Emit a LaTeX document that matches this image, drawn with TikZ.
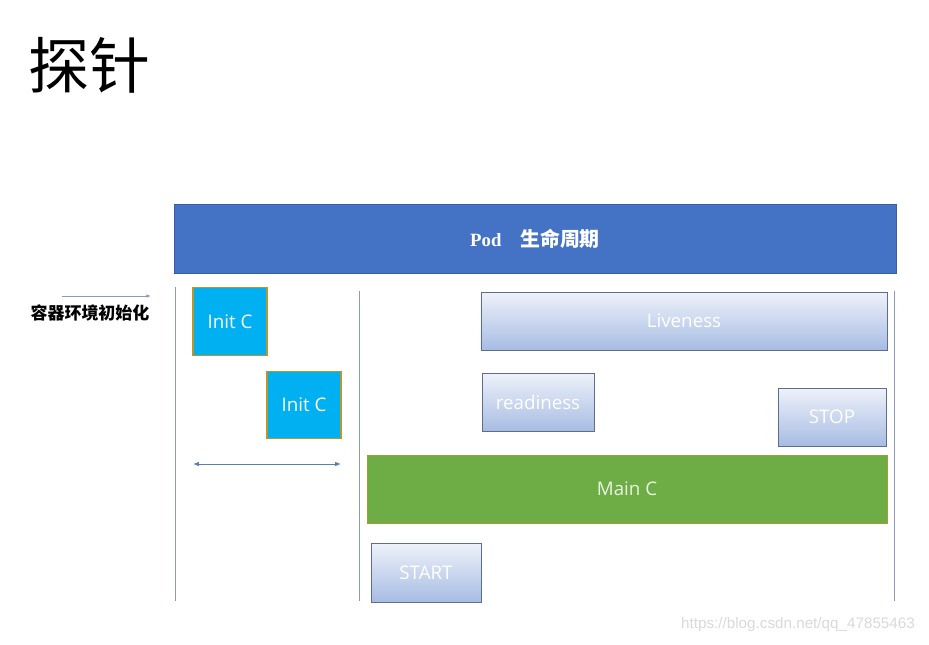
\documentclass[tikz,border=0pt]{standalone}
\usepackage{fontspec}
\setmainfont{Open Sans}
\newfontfamily\cjk{Noto Sans CJK SC}
\newfontfamily\podserif{Liberation Serif}
\newfontfamily\urlfont{Liberation Sans}
\usetikzlibrary{arrows.meta, positioning, calc}
\definecolor{podblue}{HTML}{4472C4}
\definecolor{podblueborder}{HTML}{3A5F9E}
\definecolor{initcyan}{HTML}{00B0F0}
\definecolor{goldborder}{HTML}{B8962E}
\definecolor{maingreen}{HTML}{6EAD46}
\definecolor{probetop}{HTML}{EEF2FA}
\definecolor{probebottom}{HTML}{A7BCE3}
\definecolor{probeborder}{HTML}{5F6D8C}
\definecolor{guideline}{HTML}{8A9BBA}
\definecolor{spanarrow}{HTML}{5B7DB1}

\begin{document}
\begin{tikzpicture}[
      x=0.03cm, y=-0.03cm,
      initbox/.style={draw=goldborder, fill=initcyan, line width=1pt,
        minimum width=2.22cm, minimum height=2.02cm, inner sep=0pt,
        text=white, font=\fontsize{16}{19}\selectfont},
      probebox/.style={draw=probeborder, line width=0.8pt, top color=probetop,
        bottom color=probebottom, minimum height=1.74cm, inner sep=0pt,
        text=white, font=\fontsize{16}{19}\selectfont},
      mainbox/.style={draw=goldborder!70!maingreen, fill=maingreen, line width=0.8pt,
        minimum width=15.6cm, minimum height=2.04cm, inner sep=0pt,
        text=white!85!maingreen, font=\fontsize{16}{19}\selectfont},
      guide/.style={draw=guideline, line width=0.8pt},
      >=Latex
    ]
      \useasboundingbox (0,0) rectangle (929,644);
      \node[font=\cjk\fontsize{52}{56}\selectfont] (title) at (89,65) {探针};

      \node[draw=podblueborder, fill=podblue, minimum width=21.66cm,
        minimum height=2.07cm, inner sep=0pt, text=white] (pod) at (535,239)
        {\podserif\bfseries\fontsize{16}{18}\selectfont Pod\quad
         {\cjk\bfseries\fontsize{17}{19}\selectfont 生命周期}};

      \node[font=\cjk\bfseries\fontsize{14.5}{17}\selectfont] (initlabel) at (90,313)
        {容器环境初始化};
      \coordinate (initarrowA) at (62,296);
      \coordinate (initarrowB) at (151,296);
      \draw[->, guide, line width=0.6pt, >={Latex[length=4pt, width=3pt]}]
        (initarrowA) -- (initarrowB);

      % guide lines
      \coordinate (leftTop) at (175,287);
      \coordinate (leftBot) at (175,601);
      \coordinate (midTop) at (359,291);
      \coordinate (midBot) at (359,601);
      \coordinate (rightTop) at (894,291);
      \coordinate (rightBot) at (894,601);
      \draw[guide] (leftTop) -- (leftBot);
      \draw[guide] (midTop) -- (midBot);
      \draw[guide] (rightTop) -- (rightBot);

      \node[initbox] (initA) at (230,321.5) {Init C};
      \node[initbox] (initB) at (304,405) {Init C};
      \coordinate (spanA) at (193,464);
      \coordinate (spanB) at (341,464);
      \draw[<->, draw=spanarrow, line width=0.8pt,
        >={Latex[length=5pt, width=4pt]}] (spanA) -- (spanB);

      \node[probebox, minimum width=12.18cm] (liveness) at (684,321) {Liveness};
      \node[probebox, minimum width=3.36cm] (readiness) at (538,402) {readiness};
      \node[probebox, minimum width=3.24cm] (stop) at (832,417) {STOP};
      \node[mainbox] (mainc) at (627,489) {Main C};
      \node[probebox, minimum width=3.3cm, minimum height=1.77cm] (start)
        at (426,572.5) {START};

      \node[text=black!15, font=\urlfont\fontsize{13}{15}\selectfont] (url)
        at (798,625) {https://blog.csdn.net/qq\_47855463};
    \end{tikzpicture}
\end{document}
